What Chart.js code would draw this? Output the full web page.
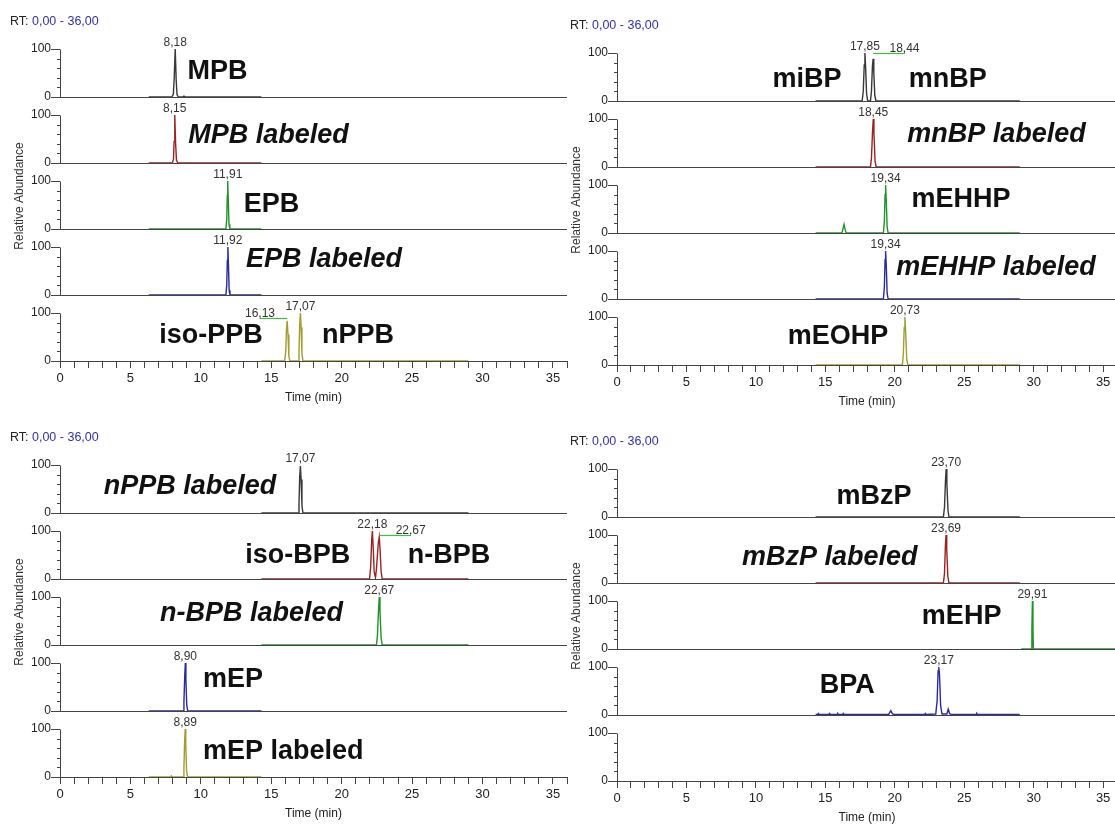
<!DOCTYPE html>
<html>
<head>
<meta charset="utf-8">
<script src="https://cdn.jsdelivr.net/npm/chart.js@4.4.1/dist/chart.umd.min.js"></script>
<style>
  html, body { margin: 0; padding: 0; background: #fff; overflow: hidden; width: 1115px; height: 825px; }
  canvas { position: absolute; }
</style>
</head>
<body>
<canvas id="p1" width="570" height="418" style="left:0px;top:0px"></canvas>
<canvas id="p2" width="560" height="418" style="left:560px;top:4px"></canvas>
<canvas id="p3" width="570" height="418" style="left:0px;top:416px"></canvas>
<canvas id="p4" width="560" height="418" style="left:560px;top:420px"></canvas>
<script>
// axes
const rtRange = "0,00 - 36,00";
const timeTicks = Array.from({ length: 37 }, (_, i) => i);
const timeLabels = [0, 5, 10, 15, 20, 25, 30, 35];
const abundanceTicks = [0, 20, 40, 60, 80, 100];
const abundanceLabels = [0, 100];
const rowColors = ["#383838", "#9c2222", "#22922a", "#2a2aa2", "#a39c2e"];

// traces : [time (min), relative abundance]
// panel 1
const mpb = [[6.3,0],[7.95,0],[8.05,6],[8.11,40],[8.18,100],[8.25,35],[8.31,5],[8.4,0],[8.72,0],[8.8,2],[8.9,0],[14.3,0]];
const mpbLabeled = [[6.3,0],[7.98,0],[8.06,8],[8.1,45],[8.15,100],[8.21,40],[8.27,6],[8.36,0],[14.3,0]];
const epb = [[6.3,0],[11.78,0],[11.84,20],[11.88,70],[11.91,100],[11.95,60],[12.0,10],[12.06,0],[14.3,0]];
const epbLabeled = [[6.3,0],[11.78,0],[11.84,20],[11.88,72],[11.92,100],[11.96,65],[12.01,10],[12.07,0],[14.3,0]];
const ppb = [[14.3,0],[15.95,0],[16.03,20],[16.08,65],[16.13,84],[16.19,55],[16.25,10],[16.32,0],[16.9,0],[16.97,20],[17.02,75],[17.07,100],[17.12,70],[17.18,15],[17.25,0],[29.0,0]];
// panel 2
const mbp = [[14.3,0],[17.65,0],[17.73,20],[17.8,75],[17.85,100],[17.9,70],[17.97,15],[18.05,0],[18.25,0],[18.32,20],[18.39,72],[18.44,88],[18.49,60],[18.56,12],[18.64,0],[29.0,0]];
const mnbpLabeled = [[14.3,0],[18.25,0],[18.32,18],[18.4,75],[18.45,100],[18.5,70],[18.58,12],[18.66,0],[29.0,0]];
const mehhp = [[14.3,0],[16.2,0],[16.28,10],[16.35,18],[16.42,8],[16.5,0],[19.18,0],[19.25,25],[19.3,80],[19.34,100],[19.39,65],[19.45,12],[19.52,0],[29.0,0]];
const mehhpLabeled = [[14.3,0],[19.18,0],[19.25,25],[19.3,82],[19.34,100],[19.39,68],[19.45,12],[19.52,0],[29.0,0]];
const meohp = [[14.3,0],[20.55,0],[20.62,25],[20.68,78],[20.73,100],[20.79,65],[20.86,12],[20.94,0],[29.0,0]];
// panel 3
const nppbLabeled = [[14.3,0],[16.9,0],[16.97,20],[17.02,75],[17.07,98],[17.12,70],[17.18,15],[17.25,0],[29.0,0]];
const bpb = [[14.3,0],[21.98,0],[22.06,25],[22.13,80],[22.18,100],[22.23,72],[22.31,15],[22.4,3],[22.47,20],[22.6,75],[22.67,88],[22.73,60],[22.8,15],[22.88,0],[29.0,0]];
const nbpbLabeled = [[14.3,0],[22.47,0],[22.54,20],[22.62,75],[22.67,100],[22.72,70],[22.8,15],[22.88,0],[29.0,0]];
const mep = [[6.3,0],[8.74,0],[8.8,20],[8.86,75],[8.9,100],[8.94,65],[9.0,12],[9.07,0],[14.3,0]];
const mepLabeled = [[6.3,0],[7.85,0],[7.9,2],[7.95,0],[8.74,0],[8.8,20],[8.85,75],[8.89,100],[8.93,65],[8.99,12],[9.06,0],[14.3,0]];
// panel 4
const mbzp = [[14.3,0],[23.5,0],[23.58,20],[23.65,75],[23.7,100],[23.75,70],[23.83,14],[23.9,0],[29.0,0]];
const mbzpLabeled = [[14.3,0],[23.5,0],[23.58,20],[23.64,75],[23.69,100],[23.74,70],[23.82,14],[23.9,0],[29.0,0]];
const mehp = [[29.1,0],[29.84,0],[29.87,40],[29.91,100],[29.95,40],[29.98,0],[36,0]];
const bpa = [[14.3,1],[14.45,1],[14.5,3],[14.55,1],[15.25,1],[15.3,3],[15.35,1],[15.85,1],[15.9,3],[15.95,1],[16.25,1],[16.3,3],[16.35,1],[19.55,1],[19.65,6],[19.72,9],[19.8,4],[19.9,1],[22.15,1],[22.2,3],[22.25,1],[22.95,2],[23.05,30],[23.12,92],[23.17,100],[23.22,85],[23.3,20],[23.4,2],[23.75,2],[23.85,12],[23.95,3],[24.05,1],[25.85,1],[25.9,3],[25.95,1],[29.0,1]];
const empty = [];

// apex retention times per row
const panel1Peaks = [[8.18], [8.15], [11.91], [11.92], [16.13, 17.07]];
const panel2Peaks = [[17.85, 18.44], [18.45], [19.34], [19.34], [20.73]];
const panel3Peaks = [[17.07], [22.18, 22.67], [22.67], [8.90], [8.89]];
const panel4Peaks = [[23.70], [23.69], [29.91], [23.17], []];

const panels = [
  {
    id: "p1", axisWidth: 60, titlePad: 12.8,
    traces: [mpb, mpbLabeled, epb, epbLabeled, ppb],
    peaks: panel1Peaks,
    callouts: { "4:16.13": { at: 14.2, level: 90 } },
    names: [
      { row: 0, text: "MPB", at: 9.05, level: 54 },
      { row: 1, text: "MPB labeled", at: 9.1, level: 58, italic: true },
      { row: 2, text: "EPB", at: 13.05, level: 50 },
      { row: 3, text: "EPB labeled", at: 13.2, level: 74, italic: true },
      { row: 4, text: "iso-PPB", at: 7.05, level: 52 },
      { row: 4, text: "nPPB", at: 18.6, level: 54 }
    ]
  },
  {
    id: "p2", axisWidth: 57, titlePad: 9.8,
    traces: [mbp, mnbpLabeled, mehhp, mehhpLabeled, meohp],
    peaks: panel2Peaks,
    callouts: { "0:18.44": { at: 20.7, level: 99 } },
    names: [
      { row: 0, text: "miBP", at: 11.2, level: 44 },
      { row: 0, text: "mnBP", at: 21.0, level: 44 },
      { row: 1, text: "mnBP labeled", at: 20.9, level: 68, italic: true },
      { row: 2, text: "mEHHP", at: 21.2, level: 70 },
      { row: 3, text: "mEHHP labeled", at: 20.1, level: 65, italic: true },
      { row: 4, text: "mEOHP", at: 12.3, level: 60 }
    ]
  },
  {
    id: "p3", axisWidth: 60, titlePad: 12.8,
    traces: [nppbLabeled, bpb, nbpbLabeled, mep, mepLabeled],
    peaks: panel3Peaks,
    callouts: { "1:22.67": { at: 24.9, level: 92 } },
    names: [
      { row: 0, text: "nPPB labeled", at: 3.1, level: 56, italic: true },
      { row: 1, text: "iso-BPB", at: 13.15, level: 48 },
      { row: 1, text: "n-BPB", at: 24.7, level: 48 },
      { row: 2, text: "n-BPB labeled", at: 7.1, level: 66, italic: true },
      { row: 3, text: "mEP", at: 10.15, level: 65 },
      { row: 4, text: "mEP labeled", at: 10.15, level: 52 }
    ]
  },
  {
    id: "p4", axisWidth: 57, titlePad: 9.8,
    traces: [mbzp, mbzpLabeled, mehp, bpa, empty],
    peaks: panel4Peaks,
    callouts: {},
    names: [
      { row: 0, text: "mBzP", at: 15.8, level: 42 },
      { row: 1, text: "mBzP labeled", at: 9.0, level: 54, italic: true },
      { row: 2, text: "mEHP", at: 21.95, level: 67 },
      { row: 3, text: "BPA", at: 14.6, level: 62 }
    ]
  }
];

Chart.defaults.font.family = '"Liberation Sans", Arial, sans-serif';
Chart.defaults.color = "#222";

const fontFamily = '"Liberation Sans", Arial, sans-serif';

// ticks, peak labels and compound names
const decorations = (panel) => ({
  id: "decorations",
  afterDraw(chart) {
    const ctx = chart.ctx;
    const x = chart.scales.x;
    const left = chart.chartArea.left;
    ctx.save();

    ctx.font = "12.5px " + fontFamily;
    ctx.textAlign = "left";
    ctx.textBaseline = "middle";
    ctx.fillStyle = "#222";
    ctx.fillText("RT:", 10, 22);
    ctx.fillStyle = "#3030b8";
    ctx.fillText(rtRange, 10 + ctx.measureText("RT: ").width, 22);

    panel.traces.forEach((trace, i) => {
      const y = chart.scales["y" + i];
      ctx.strokeStyle = "#444";
      ctx.lineWidth = 1;
      ctx.beginPath();
      ctx.moveTo(left + 0.5, Math.round(y.getPixelForValue(0)) + 0.5);
      ctx.lineTo(left + 0.5, Math.round(y.getPixelForValue(100)) + 0.5);
      abundanceTicks.forEach(v => {
        if (abundanceLabels.includes(v)) return;
        const p = Math.round(y.getPixelForValue(v)) + 0.5;
        ctx.moveTo(left - 3, p);
        ctx.lineTo(left + 0.5, p);
      });
      ctx.stroke();

      ctx.font = "12px " + fontFamily;
      ctx.textAlign = "center";
      ctx.textBaseline = "alphabetic";
      panel.peaks[i].forEach(rt => {
        const text = rt.toFixed(2).replace(".", ",");
        const c = panel.callouts[i + ":" + rt.toFixed(2)];
        if (c) {
          const ly = Math.round(y.getPixelForValue(c.level)) + 0.5;
          ctx.strokeStyle = "#3fbf3f";
          ctx.lineWidth = 1.2;
          ctx.beginPath();
          ctx.moveTo(x.getPixelForValue(c.at), ly);
          ctx.lineTo(x.getPixelForValue(rt), ly);
          ctx.stroke();
          ctx.fillStyle = "#333";
          ctx.fillText(text, x.getPixelForValue(c.at), ly - 2);
        } else {
          ctx.fillStyle = "#333";
          ctx.fillText(text, x.getPixelForValue(rt), y.getPixelForValue(100) - 3);
        }
      });
    });

    ctx.textAlign = "left";
    ctx.textBaseline = "middle";
    ctx.fillStyle = "#111";
    panel.names.forEach(n => {
      const y = chart.scales["y" + n.row];
      ctx.font = (n.italic ? "italic " : "") + "bold 27px " + fontFamily;
      ctx.fillText(n.text, x.getPixelForValue(n.at), y.getPixelForValue(n.level));
    });
    ctx.restore();
  }
});

function buildChart(panel) {
  const scales = {
    x: {
      type: "linear", min: 0, max: 36,
      afterBuildTicks: s => { s.ticks = timeTicks.map(v => ({ value: v })); },
      afterFit: s => { s.height = 44; },
      ticks: {
        autoSkip: false, maxRotation: 0, padding: 3, color: "#222", font: { size: 13 },
        callback: v => timeLabels.includes(v) ? String(v) : ""
      },
      grid: { drawOnChartArea: false, tickLength: 7, tickColor: "#444" },
      border: { color: "#444" },
      title: { display: true, text: "Time (min)", color: "#222", font: { size: 12 }, padding: { top: 0, bottom: 0 } }
    }
  };

  // left stacked axes are laid out last-first, so add the bottom row first
  for (let i = panel.traces.length - 1; i >= 0; i--) {
    scales["y" + i] = {
      type: "linear", position: "left", stack: "rows", stackWeight: 1,
      min: 0, max: 137.5,
      afterBuildTicks: s => { s.ticks = abundanceTicks.map(v => ({ value: v })); },
      afterFit: s => { s.width = panel.axisWidth; },
      ticks: {
        autoSkip: false, padding: 0, color: "#222", font: { size: 12 },
        callback: v => abundanceLabels.includes(v) ? String(v) : ""
      },
      grid: {
        drawOnChartArea: true,
        tickLength: 9,
        color: c => (c.tick && c.tick.value === 0) ? "#444" : "rgba(0,0,0,0)",
        tickColor: c => (c.tick && abundanceLabels.includes(c.tick.value)) ? "#444" : "rgba(0,0,0,0)"
      },
      border: { display: false },
      title: {
        display: i === 2, text: "Relative Abundance", color: "#333",
        font: { size: 12 }, padding: { top: panel.titlePad, bottom: 0 }
      }
    };
  }

  new Chart(document.getElementById(panel.id), {
    type: "line",
    data: {
      datasets: panel.traces.map((trace, i) => ({
        data: trace.map(p => ({ x: p[0], y: p[1] })),
        yAxisID: "y" + i,
        borderColor: rowColors[i],
        borderWidth: 1.4,
        pointRadius: 0,
        fill: false,
        tension: 0
      }))
    },
    options: {
      responsive: false,
      animation: false,
      events: [],
      layout: { padding: { top: 31, left: 0, right: 3, bottom: 13 } },
      plugins: { legend: { display: false }, tooltip: { enabled: false } },
      scales: scales
    },
    plugins: [decorations(panel)]
  });
}

panels.forEach(buildChart);
</script>
</body>
</html>
